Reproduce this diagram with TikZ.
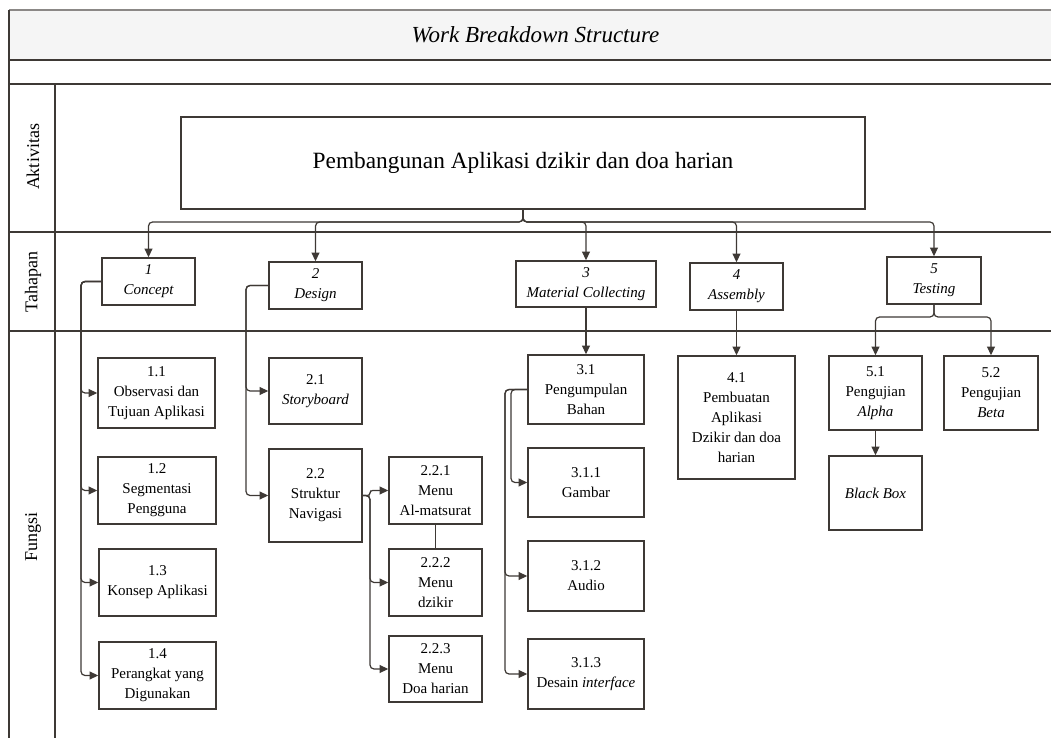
\documentclass[tikz,border=0pt]{standalone}
\usepackage{fontspec}
\setmainfont{Liberation Serif}
\usetikzlibrary{arrows.meta}
\definecolor{ln}{RGB}{62,57,53}
\definecolor{band}{RGB}{245,245,245}
\newcommand{\wbsbox}[7][]{\node[wbox,#1,minimum width={(#5-#3)*0.75pt},minimum height={(#6-#4)*0.75pt}] (#2) at ({(#3+#5)/2},{(#4+#6)/2}) {#7};}
\begin{document}
\begin{tikzpicture}[x=0.75pt,y=-0.75pt,
  wbox/.style={draw=ln,line width=1.2pt,fill=white,inner sep=0pt,align=center,font=\fontsize{11.25}{15}\selectfont},
  itbox/.style={font=\fontsize{11.25}{15}\selectfont\itshape},
  conn/.style={draw=ln,line width=0.9pt,rounded corners=3pt},
  arr/.style={conn,-{Triangle[length=6.5pt,width=6pt]}},
  rowline/.style={draw=ln,line width=1.4pt},
  colline/.style={draw=ln,line width=0.9pt},
  lab/.style={rotate=90,font=\fontsize{13.5}{16}\selectfont}]
\useasboundingbox (0,0) rectangle (1051,738);
% frame
\fill[band] (9,10) rectangle (1051,60);
\draw[draw=ln!60,line width=1pt] (9,10) -- (1051,10);
\draw[rowline] (9,60) -- (1051,60);
\draw[rowline] (9,84) -- (1051,84);
\draw[rowline] (9,232) -- (1051,232);
\draw[rowline] (9,331) -- (1051,331);
\draw[colline] (9,10) -- (9,738);
\draw[colline] (55,84) -- (55,738);
\node[font=\fontsize{17.25}{20}\selectfont\itshape] (title) at (535.5,35) {Work Breakdown Structure};
\node[lab] (lakt) at (33,157) {Aktivitas};
\node[lab] (ltah) at (33,282) {Tahapan};
\node[lab] (lfun) at (33,537) {Fungsi};
% main
\wbsbox[font=\fontsize{17.5}{20}\selectfont]{main}{181}{117}{865}{209}{Pembangunan Aplikasi dzikir dan doa harian}
% tahapan
\wbsbox[itbox]{t1}{102}{258}{195}{305}{1\\Concept}
\wbsbox[itbox]{t2}{269}{262}{362}{309}{2\\Design}
\wbsbox[itbox]{t3}{516}{261}{656}{307}{3\\Material Collecting}
\wbsbox[itbox]{t4}{690}{263}{783}{310}{4\\Assembly}
\wbsbox[itbox]{t5}{887}{257}{981}{304}{5\\Testing}
% fungsi
\wbsbox{f11}{98}{358}{215}{428}{1.1\\Observasi dan\\Tujuan Aplikasi}
\wbsbox{f12}{98}{457}{216}{524}{1.2\\Segmentasi\\Pengguna}
\wbsbox{f13}{99}{549}{216}{616}{1.3\\Konsep Aplikasi}
\wbsbox{f14}{99}{642}{216}{709}{1.4\\Perangkat yang\\Digunakan}
\wbsbox{f21}{269}{358}{362}{424}{2.1\\\textit{Storyboard}}
\wbsbox{f22}{269}{449}{362}{542}{2.2\\Struktur\\Navigasi}
\wbsbox{f221}{389}{457}{482}{524}{2.2.1\\Menu\\Al-matsurat}
\wbsbox{f222}{389}{549}{482}{616}{2.2.2\\Menu\\dzikir}
\wbsbox{f223}{389}{636}{482}{702}{2.2.3\\Menu\\Doa harian}
\wbsbox{f31}{528}{355}{644}{424}{3.1\\Pengumpulan\\Bahan}
\wbsbox{f311}{528}{448}{644}{517}{3.1.1\\Gambar}
\wbsbox{f312}{528}{541}{644}{611}{3.1.2\\Audio}
\wbsbox{f313}{528}{639}{644}{709}{3.1.3\\Desain \textit{interface}}
\wbsbox{f41}{678}{356}{795}{479}{4.1\\Pembuatan\\Aplikasi\\Dzikir dan doa\\harian}
\wbsbox{f51}{829}{356}{922}{430}{5.1\\Pengujian\\\textit{Alpha}}
\wbsbox{f52}{944}{356}{1038}{430}{5.2\\Pengujian\\\textit{Beta}}
\wbsbox[itbox]{f53}{829}{456}{922}{530}{Black Box}
% connectors
\coordinate (bus) at (523,222);
\foreach \t in {t1,t2,t3,t4,t5}
  \draw[arr] (main.south) |- (bus -| \t.north) -- (\t.north);
\coordinate (c1) at (81,0);
\foreach \f in {f11,f12,f13,f14}
  \draw[arr] (t1.west) -| (c1 |- \f.west) -- (\f.west);
\coordinate (c2) at (246,0);
\foreach \f in {f21,f22}
  \draw[arr] (t2.west) -| (c2 |- \f.west) -- (\f.west);
\coordinate (c22) at (370,0);
\draw[arr,rounded corners=2pt] (f22.east) -| (c22 |- f221.west) -- (f221.west);
\foreach \f in {f222,f223}
  \draw[arr] (f22.east) -| (c22 |- \f.west) -- (\f.west);
\draw[conn] (f221.south) -- (f222.north);
\draw[arr] (t3.south) -- (f31.north);
\coordinate (c3a) at (511,0);
\coordinate (c3b) at (505,0);
\draw[arr] (f31.west) -| (c3a |- f311.west) -- (f311.west);
\foreach \f in {f312,f313}
  \draw[arr] (f31.west) -| (c3b |- \f.west) -- (\f.west);
\draw[arr] (t4.south) -- (f41.north);
\coordinate (tb) at (934,317);
\foreach \f in {f51,f52}
  \draw[arr] (t5.south) |- (tb -| \f.north) -- (\f.north);
\draw[arr] (f51.south) -- (f53.north);
\end{tikzpicture}
\end{document}
